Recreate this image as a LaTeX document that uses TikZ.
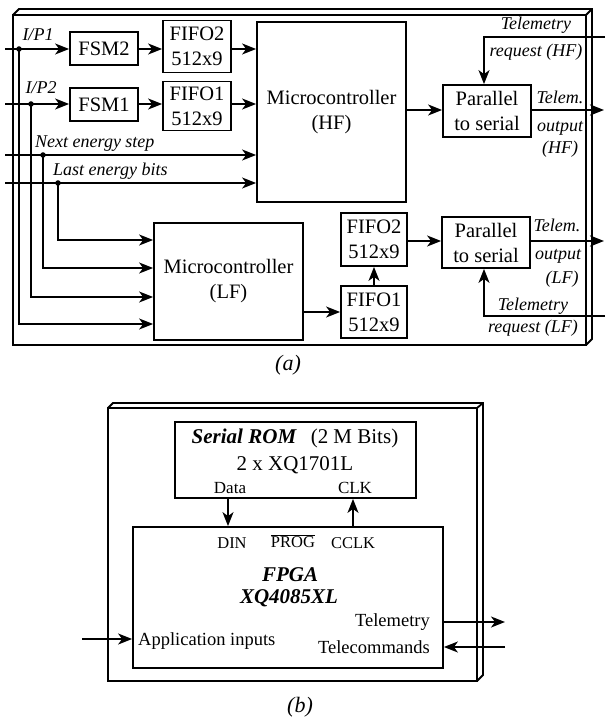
\documentclass[tikz,border=0pt]{standalone}
\usepackage{fontspec}
\setmainfont{Liberation Serif}
\usetikzlibrary{arrows.meta,calc}
\begin{document}
\begin{tikzpicture}[x=1pt,y=-1pt,
  box/.style={draw,line width=1.8pt,inner sep=0pt,align=center,
              font=\rmfamily\fontsize{20.5}{25}\selectfont},
  lbl/.style={inner sep=0pt,align=center,font=\rmfamily\fontsize{18}{22}\selectfont\itshape},
  txt/.style={inner sep=0pt,font=\rmfamily\fontsize{18.5}{22}\selectfont},
  big/.style={inner sep=0pt,font=\rmfamily\fontsize{21}{25}\selectfont},
  pin/.style={inner sep=0pt,font=\rmfamily\fontsize{16.5}{20}\selectfont},
  wire/.style={line width=1.7pt},
  arr/.style={wire,-{Stealth[length=14pt,width=11pt,inset=4pt]}},
  jdot/.style={circle,fill,inner sep=0pt,minimum size=5.5pt},
  frame/.style={line width=1.8pt,line join=miter}
]
\useasboundingbox (0,0) rectangle (605,719);

% ---------------- (a) detector electronics ----------------
\draw[frame] (13,15) rectangle (586,345);
\draw[frame] (13,15) -- (19,9) -- (592,9) -- (592,339) -- (586,345);
\draw[frame] (586,15) -- (592,9);

\node[box,minimum width=68pt,minimum height=33pt] (fsm2) at (104,48.5) {FSM2};
\node[box,minimum width=68pt,minimum height=33pt] (fsm1) at (104,104.5) {FSM1};
\node[box,minimum width=68pt,minimum height=52pt] (fifo2h) at (197,46.5) {FIFO2\\512x9};
\node[box,minimum width=68pt,minimum height=49pt] (fifo1h) at (197,106) {FIFO1\\512x9};
\node[box,minimum width=149pt,minimum height=180pt] (microhf) at (331.5,112) {Microcontroller\\(HF)};
\node[box,minimum width=88pt,minimum height=52pt] (parhf) at (487,111) {Parallel\\to serial};

\node[box,minimum width=149pt,minimum height=117pt] (microlf) at (228.5,281.5) {Microcontroller\\(LF)};
\node[box,minimum width=66pt,minimum height=53pt] (fifo2l) at (374,239.5) {FIFO2\\512x9};
\node[box,minimum width=66pt,minimum height=52pt] (fifo1l) at (374,312) {FIFO1\\512x9};
\node[box,minimum width=88pt,minimum height=51pt] (parlf) at (486,242.5) {Parallel\\to serial};

% inputs entering from the left
\coordinate (ip1) at (5,49);
\coordinate (ip2) at (5,104);
\coordinate (nes) at (5,155);
\coordinate (leb) at (5,183);
\node[jdot] (j1) at (19,49) {};
\node[jdot] (j2) at (31,104) {};
\node[jdot] (j3) at (43,155) {};
\node[jdot] (j4) at (58,183) {};

\draw[arr] (ip1) -- (ip1 -| fsm2.west);
\draw[arr] (ip2) -- (ip2 -| fsm1.west);
\draw[arr] (nes) -- (nes -| microhf.west);
\draw[arr] (leb) -- (leb -| microhf.west);
\draw[arr] (ip1 -| fsm2.east) -- (ip1 -| fifo2h.west);
\draw[arr] (ip1 -| fifo2h.east) -- (ip1 -| microhf.west);
\draw[arr] (ip2 -| fsm1.east) -- (ip2 -| fifo1h.west);
\draw[arr] (ip2 -| fifo1h.east) -- (ip2 -| microhf.west);

% taps to the LF microcontroller
\draw[arr] (j4.center) |- (microlf.west |- 0,240);
\draw[arr] (j3.center) |- (microlf.west |- 0,268);
\draw[arr] (j2.center) |- (microlf.west |- 0,297);
\draw[arr] (j1.center) |- (microlf.west |- 0,324);

\node[lbl] (lip1) at (38,35) {I/P1};
\node[lbl] (lip2) at (41,88) {I/P2};
\node[lbl,anchor=west] (lnes) at (35,144) {Next energy step};
\node[lbl,anchor=west] (lleb) at (53,171) {Last energy bits};

% HF serial output
\coordinate (outhf) at (604,110);
\coordinate (reqhf) at (605,37);
\coordinate (xreqhf) at (484,0);
\draw[arr] (microhf.east |- 0,110) -- (parhf.west |- 0,110);
\draw[arr] (parhf.east |- 0,110) -- (outhf);
\draw[arr] (reqhf) -| (parhf.north -| xreqhf);
\node[lbl] (treqhf1) at (536,25) {Telemetry};
\node[lbl] (treqhf2) at (536,52) {request (HF)};
\node[lbl] (touthf1) at (560,97) {Telem.};
\node[lbl] (touthf2) at (560,128) {output};
\node[lbl] (touthf3) at (560,149) {(HF)};

% LF chain
\coordinate (outlf) at (604,241);
\coordinate (reqlf) at (605,316);
\coordinate (xreqlf) at (484,0);
\draw[arr] (microlf.east |- 0,312) -- (fifo1l.west |- 0,312);
\draw[arr] (fifo1l.north) -- (fifo2l.south);
\draw[arr] (fifo2l.east |- 0,241) -- (parlf.west |- 0,241);
\draw[arr] (parlf.east |- 0,241) -- (outlf);
\draw[arr] (reqlf) -| (parlf.south -| xreqlf);
\node[lbl] (toutlf1) at (557,225) {Telem.};
\node[lbl] (toutlf2) at (558,256) {output};
\node[lbl] (toutlf3) at (562,279) {(LF)};
\node[lbl] (treqlf1) at (533,306) {Telemetry};
\node[lbl] (treqlf2) at (533,328) {request (LF)};

\node[inner sep=0pt,font=\rmfamily\fontsize{22}{26}\selectfont\itshape] (capa) at (288,365) {(a)};

% ---------------- (b) FPGA board ----------------
\draw[frame] (108,408) rectangle (477,681);
\draw[frame] (108,408) -- (113,403) -- (483,403) -- (483,675) -- (477,681);
\draw[frame] (477,408) -- (483,403);

\node[box,minimum width=241pt,minimum height=76pt] (rom) at (295.5,460) {};
\node[big] (romt1) at (295,438) {\textbf{\textit{Serial ROM}}\hspace{14pt}(2 M Bits)};
\node[big] (romt2) at (295,465) {2 x XQ1701L};
\node[pin,font=\rmfamily\fontsize{17}{20}\selectfont] (pdata) at (230,488) {Data};
\node[pin,font=\rmfamily\fontsize{17}{20}\selectfont] (pclk) at (355,488) {CLK};

\node[box,minimum width=310pt,minimum height=141pt] (fpga) at (288,597.5) {};
\node[pin] (pdin) at (232,543) {DIN};
\node[pin] (pprog) at (293,541) {$\overline{\hbox{PROG}}$};
\node[pin] (pcclk) at (353,543) {CCLK};
\node[big] (fpgat1) at (290,575) {\textbf{\textit{FPGA}}};
\node[big] (fpgat2) at (289,598) {\textbf{\textit{XQ4085XL}}};
\node[txt,anchor=east] (ptm) at (430,622) {Telemetry};
\node[txt,anchor=east] (ptc) at (430,647) {Telecommands};
\node[txt,anchor=west] (pai) at (138,641) {Application inputs};

\coordinate (xdata) at (228,0);
\coordinate (xclk) at (353,0);
\draw[arr] (rom.south -| xdata) -- (fpga.north -| xdata);
\draw[arr] (fpga.north -| xclk) -- (rom.south -| xclk);

\coordinate (appin) at (82,639);
\coordinate (tmout) at (505,622);
\coordinate (tcin) at (505,647);
\draw[arr] (appin) -- (appin -| fpga.west);
\draw[arr] (tmout -| fpga.east) -- (tmout);
\draw[arr] (tcin) -- (tcin -| fpga.east);

\node[inner sep=0pt,font=\rmfamily\fontsize{22}{26}\selectfont\itshape] (capb) at (300,707) {(b)};
\end{tikzpicture}
\end{document}
